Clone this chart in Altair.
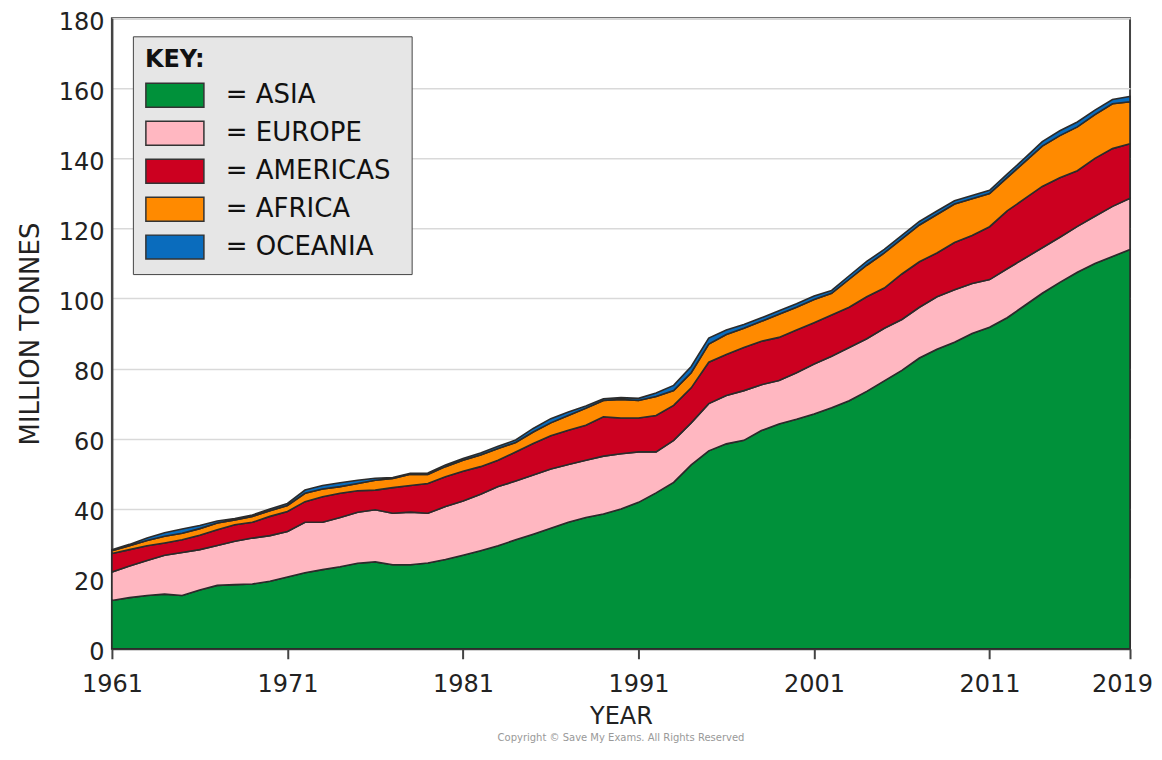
import altair as alt
import pandas as pd

years = list(range(1961, 2020))
regions = ["ASIA", "EUROPE", "AMERICAS", "AFRICA", "OCEANIA"]
colors = ["#00913a", "#ffb7c1", "#cc0020", "#ff8a00", "#0a6cbd"]

asia = [13.8, 14.6, 15.2, 15.6, 15.2, 16.8, 18.1, 18.3, 18.5, 19.3,
        20.5, 21.7, 22.6, 23.4, 24.4, 24.8, 24.0, 24.0, 24.5, 25.5,
        26.7, 28.0, 29.4, 31.1, 32.7, 34.4, 36.1, 37.5, 38.5, 39.9,
        41.8, 44.5, 47.5, 52.5, 56.5, 58.5, 59.5, 62.3, 64.2, 65.5,
        67.0, 68.8, 70.8, 73.5, 76.5, 79.5, 83.0, 85.5, 87.5, 90.0,
        91.8, 94.5, 98.0, 101.5, 104.6, 107.5, 110.0, 112.0, 114.0]
europe = [8.1, 9.0, 10.0, 11.1, 12.3, 11.5, 11.4, 12.4, 13.1, 13.0,
          13.0, 14.4, 13.5, 14.1, 14.6, 14.9, 14.7, 15.0, 14.2, 15.1,
          15.5, 16.1, 16.9, 16.8, 16.9, 16.9, 16.5, 16.3, 16.5, 15.8,
          14.4, 11.7, 12.0, 12.0, 13.5, 13.8, 14.2, 13.1, 12.4, 13.3,
          14.3, 14.7, 15.2, 15.0, 15.0, 14.5, 14.5, 15.0, 15.0, 14.3,
          13.6, 14.0, 13.5, 13.0, 12.9, 13.1, 13.5, 14.3, 14.6]
americas = [5.3, 4.7, 4.2, 3.5, 3.6, 4.1, 4.5, 4.7, 4.5, 5.5,
            5.7, 5.9, 7.3, 6.9, 6.1, 5.6, 7.3, 7.6, 8.5, 8.5,
            8.5, 7.9, 7.5, 8.3, 9.0, 9.5, 9.8, 10.0, 11.2, 10.2,
            9.7, 10.4, 10.0, 10.0, 11.8, 11.7, 12.3, 12.4, 12.3, 12.2,
            11.8, 11.8, 11.5, 12.0, 11.5, 13.0, 13.0, 12.5, 13.5, 13.7,
            15.1, 16.5, 17.0, 17.5, 17.0, 15.9, 16.5, 16.5, 15.6]
africa = [0.8, 1.1, 1.5, 1.9, 1.9, 1.9, 1.9, 1.4, 1.7, 1.6,
          1.7, 2.4, 2.2, 1.9, 2.1, 2.8, 2.6, 3.2, 2.6, 2.9,
          3.1, 3.3, 3.4, 2.7, 3.3, 3.7, 4.2, 4.9, 4.7, 5.3,
          5.0, 5.4, 4.2, 4.3, 5.2, 5.7, 5.5, 5.7, 6.6, 6.5,
          6.6, 6.2, 8.0, 9.0, 10.0, 10.0, 10.5, 11.0, 11.0, 10.5,
          9.5, 9.5, 10.5, 11.5, 12.0, 12.5, 12.5, 12.8, 12.0]
oceania = [0.3, 0.4, 0.7, 1.0, 1.2, 0.9, 0.6, 0.4, 0.4, 0.5,
           0.6, 0.9, 1.0, 1.1, 0.9, 0.6, 0.3, 0.3, 0.4, 0.5,
           0.5, 0.6, 0.6, 0.7, 1.0, 1.2, 1.0, 0.6, 0.5, 0.5,
           0.6, 1.0, 1.5, 1.8, 1.7, 1.3, 1.1, 1.0, 1.0, 1.0,
           1.0, 0.8, 1.0, 1.1, 1.0, 1.0, 1.0, 1.0, 0.9, 0.9,
           0.9, 1.0, 1.1, 1.3, 1.4, 1.4, 1.3, 1.2, 1.5]

x_ticks = [1961, 1971, 1981, 1991, 2001, 2011, 2019]
y_ticks = [0, 20, 40, 60, 80, 100, 120, 140, 160, 180]

series = [asia, europe, americas, africa, oceania]
rows = []
for i, (name, vals) in enumerate(zip(regions, series)):
    for y, v in zip(years, vals):
        rows.append({"year": y, "region": name, "value": v, "order": i})
df = pd.DataFrame(rows)

FONT = "DejaVu Sans"
rect_path = "M-1,-1H3.84V1H-1Z"

chart = alt.Chart(df).mark_area(
    stroke="#2b2b2b", strokeWidth=1.6, opacity=1, interpolate="linear"
).encode(
    x=alt.X("year:Q", scale=alt.Scale(domain=[1961, 2019], nice=False, zero=False),
            axis=alt.Axis(title="YEAR", values=x_ticks, format="d", grid=False,
                          tickSize=10, tickColor="#444", tickWidth=2,
                          labelFlush=False, labelPadding=14, titlePadding=8,
                          titleFontSize=24,
                          labelOffset=alt.expr("datum.value == 2019 ? -8 : 0"))),
    y=alt.Y("value:Q", stack="zero", scale=alt.Scale(domain=[0, 180], nice=False),
            axis=alt.Axis(title="MILLION TONNES", values=y_ticks, ticks=False,
                          labelOffset=4, labelPadding=8, titlePadding=15, grid=True)),
    color=alt.Color("region:N", scale=alt.Scale(domain=regions, range=colors),
                    legend=alt.Legend(
                        title="KEY:", orient="none", legendX=21, legendY=18,
                        direction="vertical", fillColor="#e6e6e6", strokeColor="#444",
                        padding=12, titleFontSize=24, titleFontWeight="bold",
                        titleColor="#111", titleFont=FONT, titlePadding=10,
                        labelFontSize=26, labelColor="#111", labelFont=FONT,
                        labelLimit=400,
                        labelExpr="'=  ' + datum.label", labelOffset=55,
                        symbolType=rect_path, symbolSize=576,
                        symbolStrokeColor="#333", symbolStrokeWidth=1.5,
                        symbolOpacity=1, rowPadding=8, cornerRadius=0)),
    order=alt.Order("order:Q"),
).properties(
    width=1019,
    height=631,
    autosize=alt.AutoSizeParams(type="none"),
    padding={"left": 104, "top": 10, "right": 24, "bottom": 99},
    title=alt.TitleParams("Copyright © Save My Exams. All Rights Reserved",
                          orient="bottom", anchor="middle", fontSize=10,
                          color="#999", font=FONT, fontWeight="normal", offset=4),
).configure_view(
    stroke="#444", strokeWidth=2
).configure_axis(
    labelFont=FONT, titleFont=FONT, labelFontSize=24, titleFontSize=26,
    labelColor="#222", titleColor="#222", titleFontWeight="normal",
    domainColor="#444", domainWidth=2, gridColor="#d9d9d9", gridWidth=1.5,
)

chart.save("out.html", embed_options={"renderer": "svg", "actions": False})
